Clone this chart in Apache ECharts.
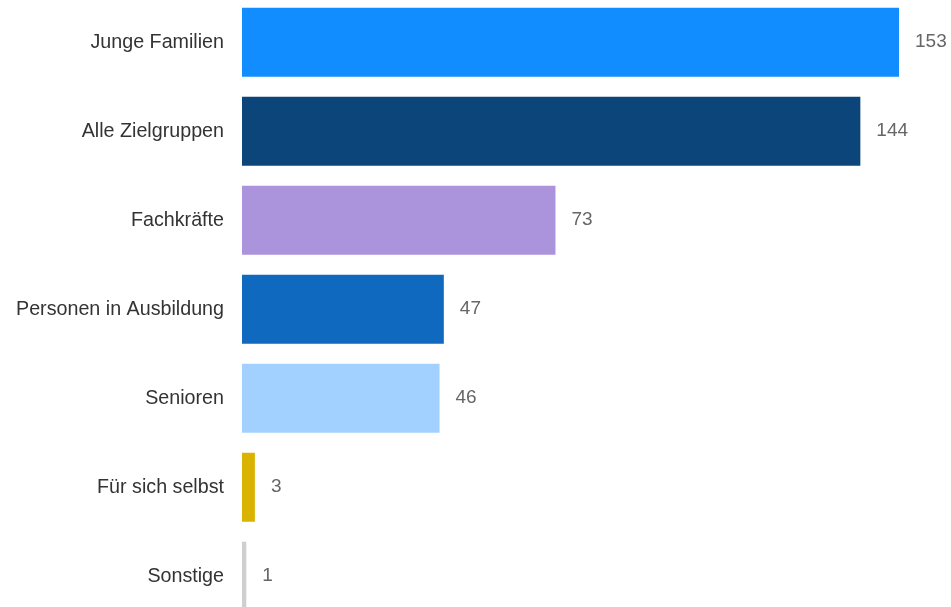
<!DOCTYPE html>
<html>
<head>
<meta charset="utf-8">
<script src="https://cdn.jsdelivr.net/npm/echarts@6/dist/echarts.min.js"></script>
<style>html,body{margin:0;padding:0;background:#fff;}#c{width:951px;height:607px;}</style>
</head>
<body>
<div id="c"></div>
<script>
const categories = ["Junge Familien","Alle Zielgruppen","Fachkräfte","Personen in Ausbildung","Senioren","Für sich selbst","Sonstige"];
const values = [153,144,73,47,46,3,1];
const colors = ["#118DFF","#0B4579","#AB94DB","#0E69BF","#A3D1FF","#D9B300","#CFCFCF"];

const chart = echarts.init(document.getElementById('c'));
chart.setOption({
  animation: false,
  backgroundColor: '#fff',
  grid: { left: 242, right: 52, top: -2.3, height: 623, containLabel: false, outerBoundsMode: 'none' },
  xAxis: { type: 'value', min: 0, max: 153, show: false },
  yAxis: {
    type: 'category', data: categories, inverse: true,
    axisLine: { show: false }, axisTick: { show: false },
    axisLabel: { color: '#333', fontSize: 19.7, fontFamily: 'Liberation Sans, Arial, sans-serif', margin: 18 }
  },
  series: [{
    type: 'bar',
    data: values.map((v, i) => ({ value: v, itemStyle: { color: colors[i] } })),
    barWidth: 69,
    label: { show: true, position: 'right', distance: 16, color: '#666', fontSize: 19, fontFamily: 'Liberation Sans, Arial, sans-serif' }
  }]
});
</script>
</body>
</html>
